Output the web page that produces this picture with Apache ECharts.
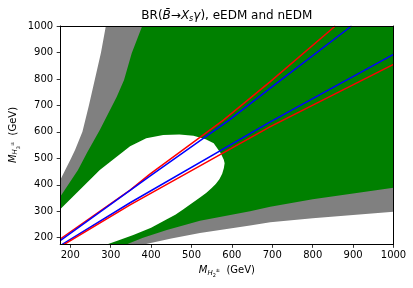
<!DOCTYPE html>
<html><head><meta charset="utf-8">
<script src="https://cdn.jsdelivr.net/npm/echarts@6/dist/echarts.min.js"></script>
<style>html,body{margin:0;padding:0;background:#fff}#c{width:413px;height:288px}</style>
</head><body><div id="c"></div>
<script>
const X_MIN=175, X_MAX=1000, Y_MIN=175, Y_MAX=1000;
const xTicks=[200,300,400,500,600,700,800,900,1000];
const yTicks=[200,300,400,500,600,700,800,900,1000];
// region boundaries
const grayUL=[[175,418],[202,500],[212,532],[230,600],[246,700],[261,800],[276,900],[288,1000]];
const greenUL=[[175,355],[219,456],[241,520],[273,607],[315,733],[333,796],[352,897],[378,1000]];
const greenLR=[[1000,389],[900,367],[800,345],[695,317],[645,300],[521,264],[439,229],[380,200],[340,175]];
const grayLR=[[1000,298],[900,286],[800,273],[695,258],[645,246],[521,218],[450,197],[385,175]];
const tongueTop=[[175,307],[273,456],[348,546],[388,576],[430,588],[470,590],[505,585],[535,572],[555,557],[572,520],[580,495]];
const tongueBottom=[[582,481],[580,462],[576,442],[569,421],[560,403],[550,388],[537,370],[521,352],[500,329],[480,307],[460,287],[439,270],[400,238],[356,210],[320,190],[292,175]];
// curves
const upperRed=[[175,195],[348,380],[397,440],[579,644],[695,790],[856,1000]];
const upperBlue=[[175,189],[397,433],[594,645],[695,765],[896,1000]];
const lowerRed=[[185,175],[348,324],[695,620],[1000,855]];
const lowerBlue=[[180,175],[348,332],[695,638],[1000,893]];

const grayPoly=[[X_MIN,Y_MIN],...grayUL,[X_MAX,Y_MAX],...grayLR];
const greenPoly=[[X_MIN,Y_MIN],...greenUL,[X_MAX,Y_MAX],...greenLR];
const whitePoly=[[X_MIN,Y_MIN],...tongueTop,...tongueBottom];

function poly(points,color,z){
  return {type:'custom',coordinateSystem:'cartesian2d',data:[[X_MIN,Y_MIN]],silent:true,clip:true,z:z,
    renderItem:(p,api)=>({type:'polygon',shape:{points:points.map(q=>api.coord(q))},style:{fill:color,stroke:null}})};
}
function line(data,color){
  return {type:'line',data:data,showSymbol:false,symbol:'none',silent:true,z:5,clip:true,
    lineStyle:{color:color,width:1.5},animation:false};
}
const FONT='DejaVu Sans';
const lab={fontFamily:FONT,fontSize:10,color:'#000',formatter:v=>String(v)};
const nameRich={i:{fontFamily:FONT,fontSize:10,fontStyle:'italic',lineHeight:16,verticalAlign:'middle'},
  s:{fontFamily:FONT,fontSize:7,fontStyle:'italic',lineHeight:16,verticalAlign:'bottom',padding:[0,0,2,0]},
  ss:{fontFamily:FONT,fontSize:5,lineHeight:16,verticalAlign:'bottom'},
  sp:{fontFamily:FONT,fontSize:5,lineHeight:16,verticalAlign:'middle'}};
const chart=echarts.init(document.getElementById('c'),null,{renderer:'canvas'});
chart.setOption({
  animation:false,
  backgroundColor:'#fff',
  grid:{left:60.2,right:19.5,top:26,bottom:43.7,containLabel:false,outerBoundsMode:'none'},
  graphic:[{type:'text',x:226.8,y:16,z:10,style:{
    text:'BR({i|B\u0304}\u2192{i|X}{sub|s}{i|\u03b3}), eEDM and nEDM',
    fontFamily:FONT,fontSize:12,fill:'#000',align:'center',verticalAlign:'middle',
    rich:{i:{fontFamily:FONT,fontSize:12,fontStyle:'italic',lineHeight:14,verticalAlign:'middle'},
          sub:{fontFamily:FONT,fontSize:8,fontStyle:'italic',lineHeight:14,verticalAlign:'bottom',padding:[0,0,0,0]}}}},
   {type:'text',x:13,y:135,rotation:Math.PI/2,z:10,style:{
    text:'{i|M}{s|H}{ss|3}{sp|\u00b1}  (GeV)',fontFamily:FONT,fontSize:10,fill:'#000',
    align:'center',verticalAlign:'middle',rich:nameRich}}],
  xAxis:[{type:'value',min:X_MIN,max:X_MAX,position:'bottom',z:10,
    axisLine:{show:true,onZero:false,lineStyle:{color:'#000',width:1}},
    axisTick:{show:true,inside:false,length:3.5,customValues:xTicks,lineStyle:{color:'#000',width:0.8}},
    axisLabel:{show:true,customValues:xTicks,margin:6,...lab},
    splitLine:{show:false},
    name:'{i|M}{s|H}{ss|2}{sp|\u00b1}  (GeV)',nameLocation:'middle',nameGap:18,
    nameTextStyle:{fontFamily:FONT,fontSize:10,color:'#000',rich:nameRich}},
   {type:'value',min:X_MIN,max:X_MAX,position:'top',z:10,
    axisLine:{show:true,onZero:false,lineStyle:{color:'#000',width:1}},
    axisTick:{show:false},axisLabel:{show:false},splitLine:{show:false}}],
  yAxis:[{type:'value',min:Y_MIN,max:Y_MAX,position:'left',z:10,
    axisLine:{show:true,onZero:false,lineStyle:{color:'#000',width:1}},
    axisTick:{show:true,inside:false,length:3.5,customValues:yTicks,lineStyle:{color:'#000',width:0.8}},
    axisLabel:{show:true,customValues:yTicks,margin:7,...lab},
    splitLine:{show:false}},
   {type:'value',min:Y_MIN,max:Y_MAX,position:'right',z:10,
    axisLine:{show:true,onZero:false,lineStyle:{color:'#000',width:1}},
    axisTick:{show:false},axisLabel:{show:false},splitLine:{show:false}}],
  series:[
    poly(grayPoly,'#808080',1),
    poly(greenPoly,'#008000',2),
    poly(whitePoly,'#ffffff',3),
    line(upperRed,'#ff0000'),
    line(upperBlue,'#0000ff'),
    line(lowerBlue,'#0000ff'),
    line(lowerRed,'#ff0000')
  ]
});
</script></body></html>
